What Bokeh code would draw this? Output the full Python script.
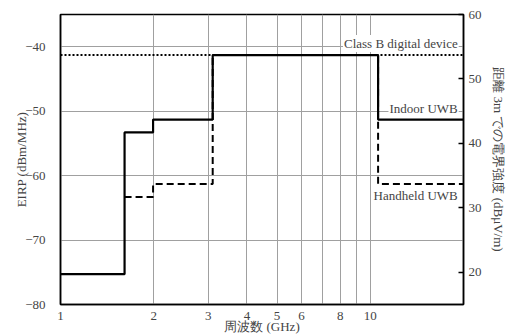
import math
from bokeh.plotting import figure
from bokeh.models import Range1d, LinearAxis, FixedTicker, Label, PrintfTickFormatter
from bokeh.embed import file_html
from bokeh.resources import INLINE

# ---- data ----
freq_edges = [1.0, 1.61, 1.99, 3.1, 10.6, 20.0]          # GHz
indoor_eirp = [-75.3, -53.3, -51.3, -41.3, -51.3]        # dBm/MHz
handheld_eirp = [-75.3, -63.3, -61.3, -41.3, -61.3]      # dBm/MHz
classb_eirp = -41.3
x_ticks = [1, 2, 3, 4, 5, 6, 8, 10]
x_grid = [2, 3, 4, 5, 6, 7, 8, 9, 10]
left_ticks = [-80, -70, -60, -50, -40]
right_ticks = [20, 30, 40, 50, 60]
x_title = "周波数 (GHz)"
left_title = "EIRP (dBm/MHz)"
right_title = "距離 3m での電界強度 (dBμV/m)"

SERIF = "Liberation Serif"
FS = "13px"

p = figure(width=511, height=336, x_axis_type="log",
           x_range=Range1d(1, 20), y_range=Range1d(-80, -35),
           output_backend="svg", toolbar_location=None,
           min_border_left=60, min_border_right=48,
           min_border_top=14, min_border_bottom=32)
p.extra_y_ranges = {"right": Range1d(15, 60)}

p.outline_line_color = "black"
p.outline_line_width = 1.5
p.background_fill_color = "white"

# grids
p.xgrid.ticker = FixedTicker(ticks=x_grid)
p.xgrid.grid_line_color = "#a0a0a0"
p.xgrid.grid_line_width = 1
p.ygrid.ticker = FixedTicker(ticks=left_ticks[1:])
p.ygrid.grid_line_color = "#a0a0a0"
p.ygrid.grid_line_width = 1

# x axis
xa = p.xaxis[0]
xa.ticker = FixedTicker(ticks=x_ticks)
xa.formatter = PrintfTickFormatter(format="%d")
xa.major_tick_line_color = None
xa.minor_tick_line_color = None
xa.axis_line_color = "black"
xa.axis_line_width = 1.5
xa.major_label_standoff = 1
xa.major_label_text_font = SERIF
xa.major_label_text_font_size = FS
xa.axis_label = x_title
xa.axis_label_standoff = -4
xa.axis_label_text_font = SERIF
xa.axis_label_text_font_size = FS
xa.axis_label_text_font_style = "normal"

# left axis
ya = p.yaxis[0]
ya.ticker = FixedTicker(ticks=left_ticks)
ya.major_label_overrides = {t: ("\u2212%d" % -t if t < 0 else str(t)) for t in left_ticks}
ya.major_tick_line_color = None
ya.minor_tick_line_color = None
ya.axis_line_color = "black"
ya.axis_line_width = 1.5
ya.major_label_standoff = 9
ya.major_label_text_font = SERIF
ya.major_label_text_font_size = FS
ya.axis_label = left_title
ya.axis_label_standoff = -7
ya.axis_label_text_font = SERIF
ya.axis_label_text_font_size = FS
ya.axis_label_text_font_style = "normal"

# right axis (ticks, labels and title)
ra = LinearAxis(y_range_name="right", ticker=FixedTicker(ticks=right_ticks),
                major_tick_in=5, major_tick_out=0,
                minor_tick_line_color=None,
                axis_line_color="black", axis_line_width=1.5,
                major_tick_line_width=1.5,
                major_label_standoff=5,
                major_label_text_font=SERIF, major_label_text_font_size=FS,
                axis_label=right_title,
                axis_label_standoff=6,
                axis_label_text_font=SERIF, axis_label_text_font_size=FS,
                axis_label_text_font_style="normal")
ra.axis_label_orientation = "vertical"
p.add_layout(ra, "right")

# class B dotted
p.line(x=[freq_edges[0], freq_edges[-1]], y=[classb_eirp, classb_eirp],
       line_color="black", line_width=2, line_dash="2 2")

# handheld dashed (from first step onward)
p.step(x=freq_edges[1:], y=handheld_eirp[1:] + [handheld_eirp[-1]], mode="after",
       line_color="black", line_width=2, line_dash="7 4")

# indoor solid
p.step(x=freq_edges, y=indoor_eirp + [indoor_eirp[-1]], mode="after",
       line_color="black", line_width=2.2)

lab_x = 19.3
for txt, yv, off, base in [("Class B digital device", classb_eirp, 3, "bottom"),
                           ("Indoor UWB", indoor_eirp[-1], 3, "bottom"),
                           ("Handheld UWB", handheld_eirp[-1], -3, "top")]:
    p.add_layout(Label(x=lab_x, y=yv, y_offset=off, text=txt,
                       text_align="right", text_baseline=base,
                       text_font=SERIF, text_font_size=FS,
                       background_fill_color="white", padding=1))

open("out.html", "w").write(file_html(p, INLINE))
